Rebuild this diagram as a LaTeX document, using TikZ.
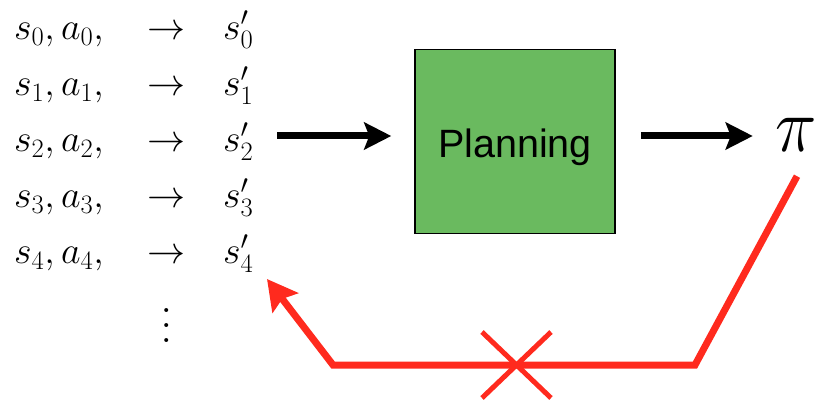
\RequirePackage{fix-cm}
\documentclass[tikz,border=0pt]{standalone}
\usepackage{fontspec}
\setsansfont{Liberation Sans}
\usetikzlibrary{arrows.meta,calc}
\definecolor{boxgreen}{RGB}{106,186,95}
\definecolor{xred}{RGB}{255,42,30}
\tikzset{
  mathtxt/.style={inner sep=0pt, anchor=base west, font=\fontsize{38}{40}\selectfont},
  arrowtxt/.style={inner sep=0pt, anchor=base, font=\fontsize{38}{40}\selectfont},
  blackarrow/.style={line width=7pt, -{Stealth[length=27pt,width=27pt,inset=5pt]}},
  redarrow/.style={draw=xred, line width=7pt, -{Stealth[length=30pt,width=32pt,inset=5pt]}},
  crossline/.style={draw=xred, line width=5pt},
  planbox/.style={draw=black, line width=1.5pt, fill=boxgreen, minimum width=200pt, minimum height=184pt, inner sep=0pt},
  plantext/.style={inner sep=0pt, anchor=base, font=\sffamily\fontsize{39.5}{40}\selectfont}
}
\begin{document}
\begin{tikzpicture}[x=1pt,y=-1pt]
\useasboundingbox (0,0) rectangle (819,401);
% list of transitions
\foreach \i in {0,...,4}{
  \pgfmathsetmacro{\yy}{39.5+56*\i}
  \node[mathtxt] (l\i) at (14,\yy) {$s_\i, a_\i,$};
  \node[arrowtxt] (r\i) at (166.5,\yy) {$\rightarrow$};
  \node[mathtxt] (p\i) at (223,\yy) {$s'_\i$};
}
\node[inner sep=0pt, anchor=base] (dots) at (167,342.7) {\scalebox{3.75}{$\vdots$}};
% planning box
\node[planbox] (box) at (515,141.3) {};
\node[plantext] (plantxt) at ($(box.center)+(0,16)$) {Planning};
% policy
\node[inner sep=0pt, anchor=base, font=\fontsize{70}{72}\selectfont] (pi) at (796,151) {\scalebox{1}[1.1]{$\pi$}};
% black arrows
\draw[blackarrow] ($(box.west)+(-137,-5.3)$) -- ($(box.west)+(-23,-5.3)$);
\draw[blackarrow] ($(box.east)+(25,-5.3)$) -- ($(box.east)+(137,-5.3)$);
% red feedback arrow
\coordinate (rs) at ($(pi.south)+(1,25)$);
\coordinate (c1) at (695,365);
\coordinate (c2) at (333,365);
\coordinate (rt) at (267,279);
\draw[redarrow] (rs) -- (c1) -- (c2) -- (rt);
% cross
\coordinate (xc) at (516.5,365);
\draw[crossline] ($(xc)+(-34.5,-33)$) -- ($(xc)+(34.5,33)$);
\draw[crossline] ($(xc)+(-34.5,33)$) -- ($(xc)+(34.5,-33)$);
\end{tikzpicture}
\end{document}
